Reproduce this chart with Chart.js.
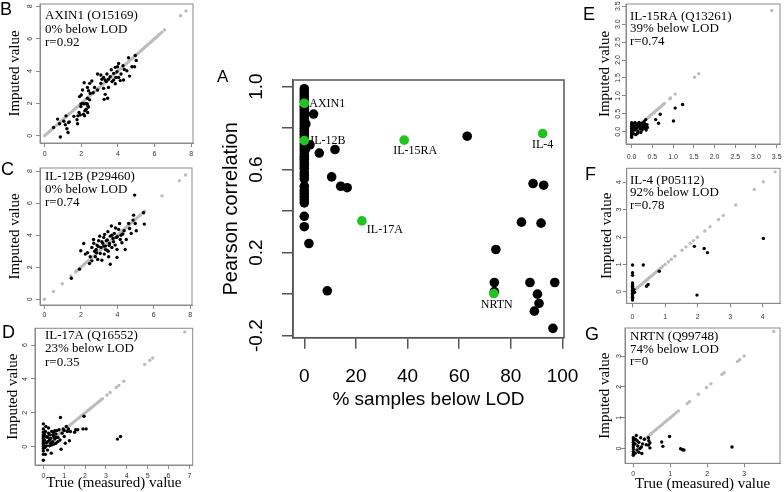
<!DOCTYPE html>
<html>
<head>
<meta charset="utf-8">
<script src="https://cdn.jsdelivr.net/npm/chart.js@4.4.0/dist/chart.umd.min.js"></script>
<style>
html, body { margin: 0; padding: 0; background: #fff; }
#wrap { position: relative; width: 784px; height: 492px; overflow: hidden; }
#wrap canvas { position: absolute; }
.tag { position: absolute; font-family: 'Liberation Sans', Arial, sans-serif; line-height: 1; color: #000; }
</style>
</head>
<body>
<div id="wrap">
  <canvas id="cA" width="376" height="360" style="left:210px;top:60px"></canvas>
  <canvas id="cB" width="200" height="162" style="left:0;top:0"></canvas>
  <canvas id="cC" width="200" height="162" style="left:0;top:162px"></canvas>
  <canvas id="cD" width="200" height="168" style="left:0;top:324px"></canvas>
  <canvas id="cE" width="204" height="162" style="left:580px;top:0"></canvas>
  <canvas id="cF" width="204" height="162" style="left:580px;top:162px"></canvas>
  <canvas id="cG" width="204" height="168" style="left:580px;top:324px"></canvas>
  <div class="tag" style="left:217px;top:68px;font-size:17px">A</div>
  <div class="tag" style="left:0;top:0;font-size:18px">B</div>
  <div class="tag" style="left:1px;top:160px;font-size:18px">C</div>
  <div class="tag" style="left:2px;top:323px;font-size:18px">D</div>
  <div class="tag" style="left:583px;top:5px;font-size:18px">E</div>
  <div class="tag" style="left:585px;top:165px;font-size:18px">F</div>
  <div class="tag" style="left:585px;top:325px;font-size:18px">G</div>
</div>
<script>
const SANS = "'Liberation Sans', Arial, sans-serif";
const SERIF = "'Liberation Serif', 'Times New Roman', serif";

// ---- A: % of samples below LOD vs Pearson correlation ----
const aXTicks = ['0', '20', '40', '60', '80', '100'];
const aYTicks = [-0.2, 0, 0.2, 0.4, 0.6, 0.8, 1.0];
const aYTickLabels = ['-0.2', '', '0.2', '', '0.6', '', '1.0'];
const aBlack = [
  [0,0.99],[0,0.975],[0,0.96],[0,0.945],[0,0.93],[0,0.905],[0,0.89],[0,0.875],[0,0.86],[0,0.845],
  [0,0.83],[0,0.815],[0,0.8],[0,0.785],[0,0.77],[0,0.755],[0,0.725],[0,0.71],[0,0.695],[0,0.68],
  [0,0.665],[0,0.65],[0,0.635],[0,0.62],[0,0.605],[0,0.585],[0,0.57],[0,0.555],[0,0.52],[0,0.5],
  [0,0.485],[0,0.47],[0,0.455],[0,0.44],[0,0.375],[0,0.325],[0.6,0.82],[0.5,0.7],
  [1.8,0.244],[3.6,0.868],[5.8,0.68],[11.9,0.697],[10.6,0.565],[14.1,0.52],[16.6,0.513],[8.9,0.016],
  [2.2,0.72],[63.1,0.761],[84.1,0.347],[74.2,0.215],[73.6,0.056],[73.6,0.012],[88.6,0.533],[92.7,0.525],
  [91.7,0.342],[87.4,0.056],[97,0.056],[90.3,0.0],[90.9,-0.045],[89.1,-0.082],[96.3,-0.165]
];
const aNamed = ['AXIN1', 'IL-12B', 'IL-15RA', 'IL-17A', 'NRTN', 'IL-4'];
const aNamedPts = [[0,0.92],[0,0.74],[38.7,0.742],[22.3,0.353],[73.4,0.003],[92.3,0.774]];

// ---- B: AXIN1 ----
const bTicks = ['0', '2', '4', '6', '8'];
const bPts = [
  [0.49,0.51],[0.71,1.03],[0.82,0.74],[0.86,-0.08],[1.13,0.68],[1.17,1.23],[1.22,0.43],[1.28,0.2],
  [1.31,0.82],[1.35,0.86],[1.77,0.99],[1.8,0.74],[1.82,1.23],[1.88,1.44],[1.95,1.29],[1.98,1.81],
  [1.99,1.97],[2.08,2.0],[2.17,1.97],[2.26,2.0],[2.33,1.97],[1.91,2.42],[2.0,2.52],[2.07,2.83],
  [2.16,3.28],[2.34,2.99],[2.4,2.79],[2.46,3.24],[2.58,3.39],[2.49,2.62],[2.34,2.32],[2.46,2.22],
  [2.36,1.85],[2.27,1.64],[2.35,1.44],[2.13,1.33],[2.18,1.23],[2.4,1.77],[2.65,2.66],[2.73,2.99],
  [2.89,2.83],[3.07,3.24],[3.22,2.93],[3.31,2.56],[3.25,2.25],[3.44,2.32],[3.13,3.49],[3.4,3.82],
  [3.49,3.49],[3.58,3.65],[3.64,4.08],[3.68,3.35],[3.77,3.86],[3.86,3.22],[3.89,3.61],[3.95,3.96],
  [3.98,4.27],[4.04,4.47],[3.86,4.23],[3.77,3.45],[4.04,3.61],[4.13,3.41],[4.17,3.82],[4.31,3.45],
  [3.37,3.35],[3.49,2.99],[2.89,3.82],[3.07,3.76],[3.22,3.61],[3.31,3.45],[4.35,4.1],[4.49,4.02],
  [4.28,4.33],[4.58,4.82],[4.77,4.27],[4.91,4.27],[4.95,4.96],[5.0,4.66],[4.64,3.69],[2.2,1.55],
  [1.6,1.2],[1.05,0.9]
];
const bGray = [0, 0.07, 0.16, 0.24, 0.31, 0.4, 0.47, 0.55, 0.64, 0.71, 0.8, 0.88, 0.95, 1.04, 1.12, 1.19,
  1.27, 1.36, 1.43, 1.52, 1.6, 1.67, 1.76, 1.83, 1.91, 2.0, 2.08, 2.15, 2.24, 2.31, 2.4, 2.48, 2.55, 2.63,
  2.72, 2.79, 2.88, 2.95, 3.03, 3.12, 3.2, 3.27, 3.35, 3.44, 3.51, 3.6, 3.68, 3.75, 3.84, 3.91, 4.0, 4.08,
  4.15, 4.23, 4.32, 4.4, 4.47, 4.56, 4.63, 4.72, 4.8, 4.87, 4.96, 5.04, 5.11, 5.2, 5.28, 5.35, 5.44, 5.51,
  5.6, 5.67, 5.76, 5.84, 5.92, 6.0, 6.08, 6.16, 6.23, 6.32, 6.41, 6.55, 7.42, 7.72];

// ---- C: IL-12B ----
const cTicks = ['0', '2', '4', '6', '8'];
const cPts = [
  [1.47,1.31],[1.92,1.88],[1.99,3.03],[2.15,3.48],[2.47,2.23],[2.51,2.65],[2.6,3.23],[2.69,3.73],
  [2.79,2.65],[2.84,3.11],[2.88,3.38],[2.92,2.49],[2.97,3.65],[3.06,2.86],[3.1,3.23],[3.15,3.59],
  [3.25,3.86],[3.28,2.82],[3.34,3.32],[3.39,3.65],[3.43,3.07],[3.48,4.21],[3.52,2.65],[3.57,3.48],
  [3.61,3.94],[3.67,4.57],[3.7,3.23],[3.76,3.8],[3.79,3.59],[3.83,4.11],[3.88,3.38],[3.94,3.86],
  [3.98,3.11],[4.07,4.36],[4.12,4.73],[4.16,3.73],[4.25,3.53],[4.3,4.07],[4.37,4.28],[4.43,3.11],
  [4.49,3.73],[4.62,4.73],[4.67,4.42],[4.76,4.11],[4.86,4.94],[4.89,5.25],[4.95,6.5],[4.98,4.73],
  [5.04,4.28],[5.44,5.4],[5.48,4.69],[3.25,3.32],[3.03,3.94],[2.24,2.82],[2.36,2.9],[2.6,2.4],
  [3.61,2.19],[3.15,2.44],[3.98,2.61],[2.75,3.0],[3.2,3.5],[3.45,3.7],[3.55,3.35],[3.35,3.1],
  [2.95,3.3],[3.7,4.0],[4.0,3.9],[2.85,2.9],[3.3,4.05],[3.9,4.45],[4.2,4.0],[2.7,3.5],[3.5,3.0]
];
const cGray = [0, 0.49, 0.97, 1.45, 1.71, 1.78, 1.86, 1.93, 2.01, 2.08, 2.16, 2.23, 2.31, 2.38, 2.46,
  2.53, 2.61, 2.68, 2.76, 2.83, 2.91, 2.98, 3.06, 3.13, 3.21, 3.28, 3.36, 3.43, 3.51, 3.58, 3.66, 3.73,
  3.81, 3.88, 3.96, 4.03, 4.11, 4.18, 4.26, 4.33, 4.41, 4.48, 4.56, 4.63, 4.71, 4.78, 4.86, 4.93, 5.01,
  5.08, 5.17, 5.26, 5.38, 5.5, 6.45, 7.4, 7.75];

// ---- D: IL-17A ----
const dXTicks = ['0', '1', '2', '3', '4', '5', '6', '7'];
const dYTicks = ['0', '2', '4', '6'];
const dPts = [
  [0,1.35],[0,1.05],[0,0.85],[0,0.7],[0,0.6],[0,0.5],[0,0.4],[0,0.3],[0,0.2],[0,0.1],[0,0.0],[0,-0.1],
  [0,-0.25],[0,-0.45],[0,-0.8],[0.1,0.9],[0.15,0.6],[0.2,0.3],[0.25,1.1],[0.2,-0.2],[0.3,0.7],[0.3,0.05],
  [0.35,0.5],[0.4,0.9],[0.38,-0.38],[0.45,0.3],[0.5,0.6],[0.5,0.85],[0.5,0.15],[0.55,0.45],[0.6,0.75],
  [0.6,0.2],[0.65,0.95],[0.7,0.55],[0.75,1.0],[0.82,1.72],[0.8,0.4],[0.85,-0.15],[0.9,0.8],[0.95,1.05],
  [1.0,0.6],[1.05,0.2],[1.1,1.2],[1.15,0.9],[1.2,1.05],[1.25,0.35],[1.3,0.9],[1.5,0.85],[1.55,1.0],
  [1.65,1.0],[1.9,1.05],[1.95,1.8],[2.05,1.05],[3.55,0.45],[3.7,0.6],[0.15,0.05],[0.05,0.4],[0.1,-0.45],
  [0.25,0.8],[0.35,0.2],[0.7,0.3],[0.45,0.7],[0.55,0.95],[1.0,0.95],[0.2,0.55],[0.3,0.4],[0.05,0.75],
  [0.12,1.2],[0.4,0.1],[0.6,0.55],[0.08,-0.05],[0.15,0.25]
];
const dGray = [0.05, 0.12, 0.2, 0.28, 0.35, 0.43, 0.5, 0.58, 0.65, 0.73, 0.8, 0.88, 0.95, 1.03, 1.1,
  1.18, 1.25, 1.33, 1.4, 1.48, 1.55, 1.63, 1.7, 1.78, 1.85, 1.93, 2.0, 2.08, 2.15, 2.23, 2.3, 2.38, 2.45,
  2.53, 2.6, 2.68, 2.76, 2.83, 3.05, 3.2, 3.5, 3.62, 3.86, 4.86, 5.1, 5.24, 6.78];

// ---- E: IL-15RA ----
const eTicks = ['0.0', '0.5', '1.0', '1.5', '2.0', '2.5', '3.0', '3.5'];
const ePts = [
  [0,0.25],[0,0.2],[0,0.15],[0,0.1],[0,0.05],[0,0],[0,-0.05],[0,-0.1],[0,-0.15],[0.03,0.22],[0.05,0.12],
  [0.05,-0.05],[0.08,0.26],[0.08,0.05],[0.1,0.18],[0.1,-0.08],[0.12,0.1],[0.13,0.22],[0.15,0.02],
  [0.17,0.15],[0.18,0.26],[0.2,0.08],[0.2,0.2],[0.22,-0.02],[0.23,0.14],[0.25,0.24],[0.25,0.05],
  [0.28,0.18],[0.3,0.1],[0.3,0.28],[0.32,0.22],[0.33,0.15],[0.35,0.05],[0.34,0.34],[0.37,0.2],
  [0.38,0.12],[0.02,0.02],[0.06,0.16],[0.14,-0.04],[0.26,0.12],[0.58,0.34],[0.65,0.24],[0.69,0.49],
  [1.01,0.3],[1.05,0.66],[1.23,0.76]
];
const eGray = [0.02, 0.08, 0.13, 0.19, 0.25, 0.3, 0.36, 0.4, 0.44, 0.48, 0.52, 0.56, 0.6, 0.64, 0.68,
  0.72, 0.76, 0.79, 0.92, 0.94, 1.05, 1.52, 1.62, 3.38];

// ---- F: IL-4 ----
const fTicks = ['0', '1', '2', '3', '4'];
const fPts = [
  [0,0.98],[0,0.7],[0,0.6],[0,0.32],[0,0.26],[0,0.2],[0,0.15],[0,0.1],[0,0.05],[0,0.0],[0,-0.05],
  [0,-0.1],[0,-0.15],[0,-0.2],[0,-0.25],[0,-0.3],[0.06,-0.02],[0.04,0.08],[0.33,0.98],[0.43,0.2],
  [0.48,0.27],[0.82,0.75],[1.9,1.66],[2.2,1.58],[2.3,1.43],[1.98,-0.12],[4.02,1.95]
];
const fGray = [0.02, 0.06, 0.1, 0.15, 0.2, 0.24, 0.28, 0.33, 0.38, 0.42, 0.47, 0.52, 0.56, 0.61, 0.66,
  0.7, 0.75, 0.8, 0.86, 0.92, 1.0, 1.1, 1.19, 1.3, 1.52, 1.64, 1.77, 1.87, 1.99, 2.22, 2.38, 2.64, 2.79,
  3.17, 3.74, 4.02, 4.38];

// ---- G: NRTN ----
const gTicks = ['0', '1', '2', '3'];
const gPts = [
  [0,0.35],[0,0.28],[0,0.2],[0,0.12],[0,0.05],[0,-0.02],[0,-0.1],[0,-0.18],[0,-0.22],[0.05,0.15],
  [0.08,0.42],[0.1,-0.05],[0.1,0.25],[0.12,0.08],[0.15,0.2],[0.15,-0.12],[0.2,0.35],[0.22,0.05],
  [0.25,0.15],[0.23,-0.16],[0.3,0.3],[0.35,0.12],[0.41,0.35],[0.42,0.25],[0.41,0.11],[0.45,0.18],
  [0.45,0.02],[0.77,0.21],[0.8,0.07],[0.98,0.39],[1.28,-0.01],[1.33,-0.04],[1.37,-0.05],[2.67,0.05],
  [0.05,-0.15],[0.18,0.0],[0.06,0.3]
];
const gGray = [0.3, 0.34, 0.39, 0.45, 0.49, 0.55, 0.6, 0.64, 0.7, 0.75, 0.79, 0.85, 0.9, 0.94, 1.0,
  1.05, 1.1, 1.16, 1.22, 1.46, 1.52, 1.76, 1.98, 2.1, 2.4, 2.46, 2.82, 2.88, 3.0, 3.8];

// box round the plot area, like R's box()
const framePlugin = {
  id: 'frame',
  beforeDatasetsDraw(chart, args, opts) {
    const a = chart.chartArea, ctx = chart.ctx;
    ctx.save();
    ctx.strokeStyle = opts.color;
    ctx.lineWidth = opts.width;
    ctx.strokeRect(a.left, a.top, a.right - a.left, a.bottom - a.top);
    ctx.restore();
  }
};

// protein name / LOD / r text in the corner of each small panel
const notePlugin = {
  id: 'note',
  afterDatasetsDraw(chart, args, opts) {
    if (!opts.lines) return;
    const a = chart.chartArea, ctx = chart.ctx;
    ctx.save();
    ctx.font = '13px ' + SERIF;
    ctx.fillStyle = '#000';
    ctx.textAlign = 'left';
    ctx.textBaseline = 'middle';
    opts.lines.forEach((t, i) => ctx.fillText(t, a.left + opts.dx, a.top + opts.dy + i * opts.gap));
    ctx.restore();
  }
};

// names next to the green dots in A
const aLabelOffsets = { 'AXIN1': [5, 1, 'left'], 'IL-12B': [6, 0, 'left'], 'IL-15RA': [-11, 11, 'left'],
  'IL-17A': [5, 9, 'left'], 'NRTN': [3, 11, 'center'], 'IL-4': [0, 11, 'center'] };
const namePlugin = {
  id: 'names',
  afterDatasetsDraw(chart) {
    const ctx = chart.ctx, xs = chart.scales.x, ys = chart.scales.y;
    ctx.save();
    ctx.font = '12px ' + SERIF;
    ctx.fillStyle = '#000';
    ctx.textBaseline = 'middle';
    aNamed.forEach((n, i) => {
      const o = aLabelOffsets[n];
      ctx.textAlign = o[2];
      ctx.fillText(n, xs.getPixelForValue(aNamedPts[i][0]) + o[0], ys.getPixelForValue(aNamedPts[i][1]) + o[1]);
    });
    ctx.restore();
  }
};

const toXY = p => ({ x: p[0], y: p[1] });
// fixed axis sizes; drop the extra room Chart.js keeps for end labels
const fixX = h => s => { s.height = h; s.paddingLeft = 0; s.paddingRight = 0; };
const fixY = w => s => { s.width = w; s.paddingTop = 0; s.paddingBottom = 0; };

new Chart(document.getElementById('cA'), {
  type: 'scatter',
  data: {
    datasets: [
      { data: aNamedPts.map(toXY), backgroundColor: '#1fc41f', borderWidth: 0, pointRadius: 4.8 },
      { data: aBlack.map(toXY), backgroundColor: '#000', borderWidth: 0, pointRadius: 4.8 }
    ]
  },
  options: {
    responsive: false, animation: false, events: [],
    layout: { padding: { top: 20, right: 22, left: 0, bottom: 0 } },
    plugins: { legend: { display: false }, tooltip: { enabled: false }, frame: { color: '#555', width: 1.5 } },
    scales: {
      x: {
        type: 'linear', min: -4.37, max: 100.58,
        afterBuildTicks: s => { s.ticks = aXTicks.map(t => ({ value: +t })); },
        afterFit: fixX(82.3),
        ticks: { autoSkip: false, includeBounds: false, maxRotation: 0, padding: 16.6, color: '#000',
          font: { family: SANS, size: 19 }, callback: (v, i) => aXTicks[i] },
        grid: { drawOnChartArea: false, tickLength: 11, color: '#555', lineWidth: 1.5 },
        border: { color: '#555', width: 1.5 },
        title: { display: true, text: '% samples below LOD', color: '#000', font: { family: SANS, size: 19 },
          padding: { top: 0, bottom: 8.6 } }
      },
      y: {
        type: 'linear', min: -0.21, max: 1.032,
        afterBuildTicks: s => { s.ticks = aYTicks.map(v => ({ value: v })); },
        afterFit: fixY(83),
        ticks: { autoSkip: false, includeBounds: false, minRotation: 90, maxRotation: 90, crossAlign: 'center',
          padding: 8.9, color: '#000', font: { family: SANS, size: 19 }, callback: (v, i) => aYTickLabels[i] },
        grid: { drawOnChartArea: false, tickLength: 11, color: '#555', lineWidth: 1.5 },
        border: { color: '#555', width: 1.5 },
        title: { display: true, text: 'Pearson correlation', color: '#000', font: { family: SANS, size: 20 },
          padding: { top: 9.5, bottom: 0 } }
      }
    }
  },
  plugins: [framePlugin, namePlugin]
});

function smallPanel(id, pts, gray, note, c) {
  const xT = c.xTicks, yT = c.yTicks;
  new Chart(document.getElementById(id), {
    type: 'scatter',
    data: {
      datasets: [
        { data: pts.map(toXY), backgroundColor: '#000', borderWidth: 0, pointRadius: 1.7 },
        { data: gray.map(v => ({ x: v, y: v })), backgroundColor: '#bcbcbc', borderWidth: 0, pointRadius: 1.7 }
      ]
    },
    options: {
      responsive: false, animation: false, events: [],
      layout: { padding: { top: c.top, right: c.right, left: 0, bottom: 0 } },
      plugins: {
        legend: { display: false }, tooltip: { enabled: false },
        frame: { color: '#8a8a8a', width: 1 },
        note: { lines: note, dx: c.nx, dy: c.ny, gap: c.ng }
      },
      scales: {
        x: {
          type: 'linear', min: c.x[0], max: c.x[1],
          afterBuildTicks: s => { s.ticks = xT.map(t => ({ value: +t })); },
          afterFit: fixX(c.xh),
          ticks: { autoSkip: false, includeBounds: false, maxRotation: 0, padding: c.xp, color: '#333',
            font: { family: SANS, size: 7 }, callback: (v, i) => xT[i] },
          grid: { drawOnChartArea: false, tickLength: 4, color: '#888' },
          border: { color: '#8a8a8a' },
          title: { display: !!c.xTitle, text: c.xTitle || '', color: '#000', font: { family: SERIF, size: 15 },
            padding: { top: 0, bottom: c.xtp || 0 } }
        },
        y: {
          type: 'linear', min: c.y[0], max: c.y[1],
          afterBuildTicks: s => { s.ticks = yT.map(t => ({ value: +t })); },
          afterFit: fixY(c.yw),
          ticks: { autoSkip: false, includeBounds: false, minRotation: 90, maxRotation: 90, crossAlign: 'center',
            padding: c.yp, color: '#333', font: { family: SANS, size: 7 }, callback: (v, i) => yT[i] },
          grid: { drawOnChartArea: false, tickLength: 4, color: '#888' },
          border: { color: '#8a8a8a' },
          title: { display: true, text: 'Imputed value', color: '#000', font: { family: SERIF, size: 15 },
            padding: { top: c.ytp, bottom: 0 } }
        }
      }
    },
    plugins: [framePlugin, notePlugin]
  });
}

smallPanel('cB', bPts, bGray, ['AXIN1 (O15169)', '0% below LOD', 'r=0.92'],
  { xTicks: bTicks, yTicks: bTicks, x: [-0.25, 8.1], y: [-0.45, 8.15], top: 3, right: 7, yw: 40, xh: 19,
    xp: 2.8, yp: 4, ytp: 6, nx: 5, ny: 12, ng: 13.3 });
smallPanel('cC', cPts, cGray, ['IL-12B (P29460)', '0% below LOD', 'r=0.74'],
  { xTicks: cTicks, yTicks: cTicks, x: [-0.25, 8.1], y: [-0.355, 8.19], top: 6, right: 8, yw: 40, xh: 19,
    xp: 2, yp: 4, ytp: 6, nx: 5, ny: 9, ng: 12.6 });
smallPanel('cD', dPts, dGray, ['IL-17A (Q16552)', '23% below LOD', 'r=0.35'],
  { xTicks: dXTicks, yTicks: dYTicks, x: [-0.4, 7.16], y: [-1.08, 6.99], top: 4.3, right: 7.3, yw: 35, xh: 27,
    xp: 2.8, yp: 4, ytp: 4.3, nx: 10, ny: 7, ng: 13.7, xTitle: 'True (measured) value', xtp: 0 });
smallPanel('cE', ePts, eGray, ['IL-15RA (Q13261)', '39% below LOD', 'r=0.74'],
  { xTicks: eTicks, yTicks: eTicks, x: [-0.136, 3.58], y: [-0.34, 3.56], top: 2.7, right: 2, yw: 46, xh: 18,
    xp: 4.5, yp: -1.1, ytp: 16, nx: 4, ny: 12.3, ng: 12.7 });
smallPanel('cF', fPts, fGray, ['IL-4 (P05112)', '92% below LOD', 'r=0.78'],
  { xTicks: fTicks, yTicks: fTicks, x: [-0.18, 4.53], y: [-0.42, 4.51], top: 6.3, right: 4, yw: 46.7, xh: 20.7,
    xp: 5.2, yp: 1.45, ytp: 18, nx: 3.3, ny: 12.4, ng: 12.2 });
smallPanel('cG', gPts, gGray, ['NRTN (Q99748)', '74% below LOD', 'r=0'],
  { xTicks: gTicks, yTicks: gTicks, x: [-0.225, 3.97], y: [-0.48, 3.91], top: 2, right: 4, yw: 45, xh: 28.7,
    xp: 2.5, yp: -0.25, ytp: 16, nx: 5, ny: 9, ng: 12.2, xTitle: 'True (measured) value', xtp: -1 });
</script>
</body>
</html>
